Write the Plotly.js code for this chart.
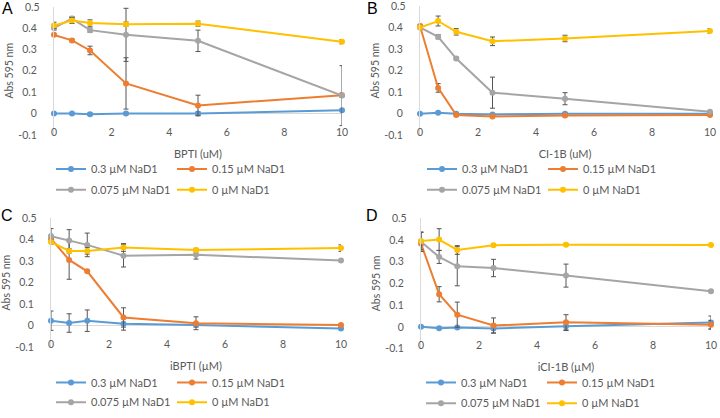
<!DOCTYPE html>
<html><head><meta charset="utf-8">
<script src="https://cdn.plot.ly/plotly-3.0.1.min.js"></script>
<style>html,body{margin:0;padding:0;background:#fff}#chart{width:720px;height:418px}</style>
</head><body><div id="chart"></div>
<script>
// ---------- data ----------
const inhibitorConc = [0, 0.625, 1.25, 2.5, 5, 10];
const seriesNames = ['0.3 µM NaD1', '0.15 µM NaD1', '0.075 µM NaD1', '0 µM NaD1'];
const panelLetters = ['A', 'B', 'C', 'D'];
const xTitles = ['BPTI (uM)', 'CI-1B (uM)', 'iBPTI (µM)', 'iCI-1B (µM)'];
const yTitle = 'Abs 595 nm';
const xTickVals = [0, 2, 4, 6, 8, 10];
const xTickText = ['0', '2', '4', '6', '8', '10'];
const yTickVals = [-0.1, 0, 0.1, 0.2, 0.3, 0.4, 0.5];
const yTickText = ['-0.1', '0', '0.1', '0.2', '0.3', '0.4', '0.5'];

// Panel A: BPTI
const bpti_03 = [0, 0.001, -0.003, 0, 0, 0.016];
const bpti_03Err = [0.004, 0.004, 0.006, 0.005, 0.008, 0.005];
const bpti_015 = [0.368, 0.342, 0.295, 0.141, 0.038, 0.086];
const bpti_015Err = [0.005, 0.006, 0.02, 0.12, 0.048, 0.01];
const bpti_0075 = [0.40, 0.444, 0.39, 0.368, 0.34, 0.084];
const bpti_0075Err = [0.01, 0.01, 0.01, 0.124, 0.05, 0.14];
const bpti_0 = [0.412, 0.435, 0.423, 0.418, 0.42, 0.336];
const bpti_0Err = [0.015, 0.014, 0.015, 0.01, 0.012, 0.01];

// Panel B: CI-1B
const ci1b_03 = [0, 0.005, 0, -0.003, 0, 0];
const ci1b_03Err = [0.003, 0.003, 0.003, 0.004, 0.005, 0.004];
const ci1b_015 = [0.407, 0.12, -0.006, -0.012, -0.008, -0.005];
const ci1b_015Err = [0.008, 0.02, 0.005, 0.005, 0.005, 0.004];
const ci1b_0075 = [0.40, 0.357, 0.256, 0.098, 0.07, 0.01];
const ci1b_0075Err = [0.005, 0.01, 0.006, 0.072, 0.028, 0.005];
const ci1b_0 = [0.40, 0.43, 0.38, 0.336, 0.349, 0.384];
const ci1b_0Err = [0.01, 0.023, 0.015, 0.02, 0.015, 0.01];

// Panel C: iBPTI
const ibpti_03 = [0.023, 0.012, 0.023, 0.009, 0.003, -0.014];
const ibpti_03Err = [0.045, 0.043, 0.05, 0.03, 0.01, 0.005];
const ibpti_015 = [0.405, 0.306, 0.253, 0.038, 0.011, 0.003];
const ibpti_015Err = [0.01, 0.09, 0.005, 0.045, 0.03, 0.005];
const ibpti_0075 = [0.417, 0.397, 0.376, 0.326, 0.33, 0.303];
const ibpti_0075Err = [0.035, 0.05, 0.055, 0.053, 0.02, 0.005];
const ibpti_0 = [0.39, 0.348, 0.348, 0.364, 0.352, 0.361];
const ibpti_0Err = [0.01, 0.01, 0.015, 0.018, 0.008, 0.015];

// Panel D: iCI-1B
const ici1b_03 = [0, -0.006, -0.003, -0.008, 0.003, 0.02];
const ici1b_03Err = [0.004, 0.004, 0.005, 0.02, 0.02, 0.03];
const ici1b_015 = [0.384, 0.15, 0.056, 0.006, 0.021, 0.01];
const ici1b_015Err = [0.01, 0.035, 0.058, 0.035, 0.035, 0.02];
const ici1b_0075 = [0.392, 0.322, 0.279, 0.271, 0.236, 0.164];
const ici1b_0075Err = [0.045, 0.03, 0.09, 0.04, 0.053, 0.005];
const ici1b_0 = [0.395, 0.402, 0.354, 0.376, 0.378, 0.377];
const ici1b_0Err = [0.04, 0.05, 0.02, 0.006, 0.004, 0.004];

// ---------- styling / layout ----------
const seriesColors = ['#5B9BD5', '#ED7D31', '#A5A5A5', '#FFC000'];
const FONT = 'Lato, "Open Sans", sans-serif';
const W = 720, H = 418;
const panels = [
  {vals: [bpti_03, bpti_015, bpti_0075, bpti_0], errs: [bpti_03Err, bpti_015Err, bpti_0075Err, bpti_0Err],
   box: {l: 54, r: 342, t: 6.7, b: 137.3}, legX: 172, legY: [172, 193], letter: [7, 9]},
  {vals: [ci1b_03, ci1b_015, ci1b_0075, ci1b_0], errs: [ci1b_03Err, ci1b_015Err, ci1b_0075Err, ci1b_0Err],
   box: {l: 420, r: 710, t: 6, b: 137.7}, legX: 543, legY: [172, 193], letter: [372, 9]},
  {vals: [ibpti_03, ibpti_015, ibpti_0075, ibpti_0], errs: [ibpti_03Err, ibpti_015Err, ibpti_0075Err, ibpti_0Err],
   box: {l: 51, r: 341, t: 222, b: 353}, legX: 172, legY: [389, 409], letter: [7, 219]},
  {vals: [ici1b_03, ici1b_015, ici1b_0075, ici1b_0], errs: [ici1b_03Err, ici1b_015Err, ici1b_0075Err, ici1b_0Err],
   box: {l: 421, r: 711, t: 222, b: 354.5}, legX: 542, legY: [389, 410], letter: [372, 219]}
];

// top tick label (at the upper edge of each panel) is written as a paper-anchored annotation
const topIdx = yTickVals.length - 1;
const axisTickText = yTickText.map((t, k) => (k === topIdx ? '' : t));

const traces = [];
const layout = {
  width: W, height: H,
  margin: {l: 0, r: 0, t: 0, b: 0},
  paper_bgcolor: '#fff', plot_bgcolor: 'rgba(0,0,0,0)',
  font: {family: FONT, color: '#595959', size: 10},
  showlegend: true,
  annotations: []
};

panels.forEach((p, i) => {
  const n = i === 0 ? '' : String(i + 1);
  const xa = 'x' + n, ya = 'y' + n;
  const legA = 'legend' + (i === 0 ? '' : String(2 * i + 1));
  const legB = 'legend' + String(2 * i + 2);
  p.vals.forEach((v, s) => {
    traces.push({
      type: 'scatter', mode: 'lines+markers',
      x: inhibitorConc, y: v,
      name: seriesNames[s],
      xaxis: xa, yaxis: ya,
      legend: s < 2 ? legA : legB,
      line: {color: seriesColors[s], width: 2},
      marker: {color: seriesColors[s], size: 6, symbol: 'circle'},
      error_y: {type: 'data', array: p.errs[s], visible: true, color: '#555555', thickness: 1, width: 2.5},
      cliponaxis: false,
      hoverinfo: 'skip'
    });
  });
  const b = p.box;
  const xDom = [b.l / W, b.r / W];
  const yDom = [1 - b.b / H, 1 - b.t / H];
  layout['xaxis' + n] = {
    domain: xDom, range: [0, 10], anchor: 'free', position: 1 - (b.b - 11) / H,
    tickvals: xTickVals, ticktext: xTickText, ticks: '', showgrid: false, zeroline: false, showline: false,
    tickfont: {size: 10.5, color: '#595959'}, ticklabeloverflow: 'allow',
    title: {text: xTitles[i], font: {size: 11, color: '#595959'}, standoff: 13},
    fixedrange: true
  };
  layout['yaxis' + n] = {
    domain: yDom, range: [-0.1, 0.5], anchor: xa,
    tickvals: yTickVals, ticktext: axisTickText, ticks: '', showgrid: false,
    zeroline: true, zerolinecolor: '#d9d9d9', zerolinewidth: 1,
    showline: true, linecolor: '#d9d9d9', linewidth: 1,
    ticklabelstandoff: 14, ticklabeloverflow: 'allow',
    tickfont: {size: 10.5, color: '#595959'},
    title: {text: yTitle, font: {size: 10.5, color: '#595959'}, standoff: 2},
    fixedrange: true
  };
  const legCommon = {
    orientation: 'h', xanchor: 'center', yanchor: 'middle', x: p.legX / W,
    font: {size: 11, color: '#595959', family: FONT}, bgcolor: 'rgba(0,0,0,0)',
    itemwidth: 30, entrywidth: 76, entrywidthmode: 'pixels', traceorder: 'normal', tracegroupgap: 0
  };
  layout[legA] = Object.assign({}, legCommon, {y: 1 - p.legY[0] / H});
  layout[legB] = Object.assign({}, legCommon, {y: 1 - p.legY[1] / H});
  layout.annotations.push({
    xref: 'paper', yref: 'paper', x: p.letter[0] / W, y: 1 - p.letter[1] / H,
    xanchor: 'center', yanchor: 'middle', showarrow: false, text: panelLetters[i],
    font: {family: '"Liberation Sans", Arial, sans-serif', size: 16, color: '#000'}
  });
  layout.annotations.push({
    xref: 'paper', yref: 'paper', x: xDom[0], y: yDom[1],
    xanchor: 'right', yanchor: 'middle', xshift: -13, showarrow: false,
    text: yTickText[topIdx], borderpad: 0,
    font: {family: FONT, size: 10.5, color: '#595959'}
  });
});

Plotly.newPlot('chart', traces, layout, {displayModeBar: false, staticPlot: true});
</script>
</body></html>
